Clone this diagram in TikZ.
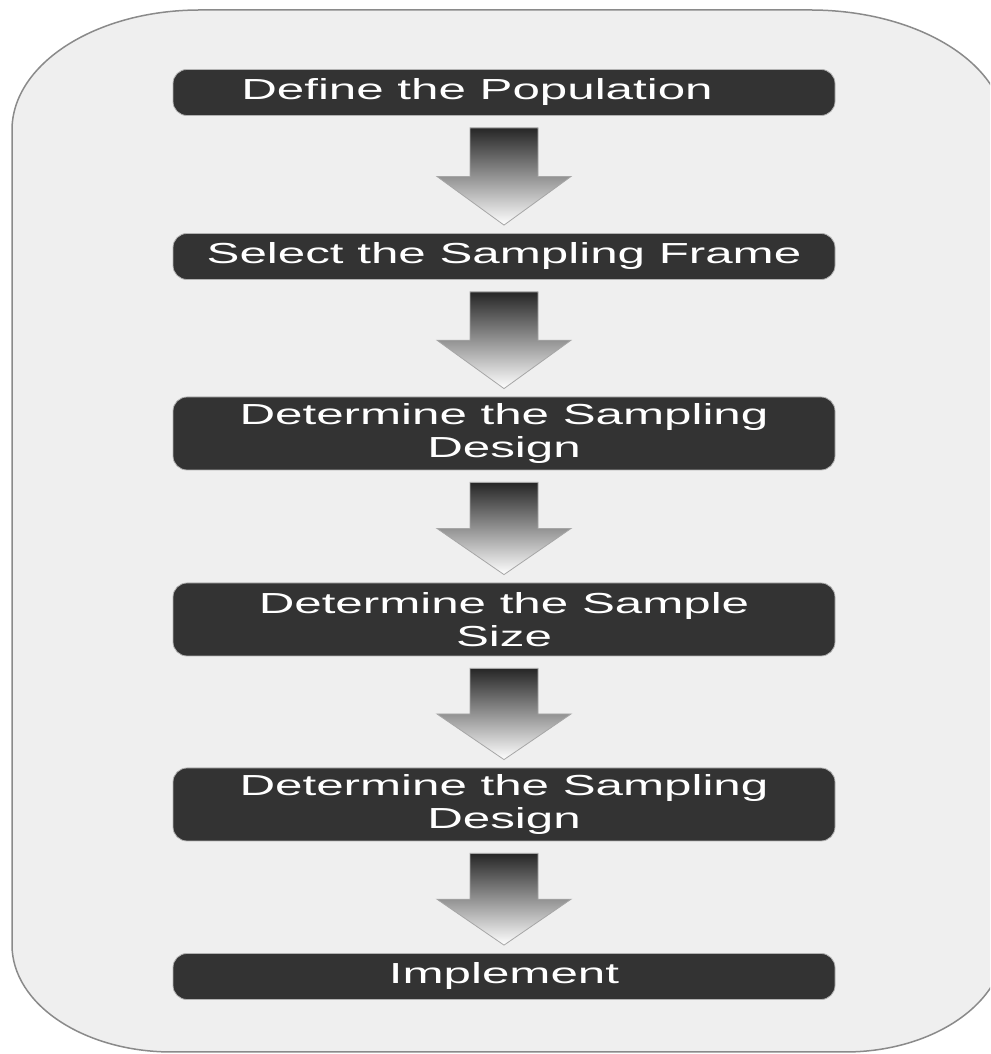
\documentclass[tikz,border=0pt]{standalone}
\usepackage{fontspec}
\newfontfamily\stepfont[FakeStretch=1.7]{Liberation Sans}
\usetikzlibrary{calc}
\definecolor{panelgray}{HTML}{EFEFEF}
\definecolor{edgegray}{HTML}{8A8A8A}
\definecolor{boxgray}{HTML}{333333}
\tikzset{
  stepbox/.style={draw=gray!60, line width=0.8pt, fill=boxgray, rounded corners=14pt,
    minimum width=662pt, minimum height=46pt, inner sep=0pt, align=center,
    text=white, font=\stepfont\fontsize{29}{33}\selectfont},
  tallbox/.style={stepbox, minimum height=73pt},
  arrowshape/.style={draw=gray!70, line width=0.8pt, top color=black!85, bottom color=white}
}
% arrow between two step boxes
\newcommand{\flowarrow}[2]{%
  \coordinate (t) at ($(#1.south)+(0,-12)$);
  \coordinate (p) at ($(#2.north)+(0,8)$);
  \coordinate (m) at ($(t)!0.5!(p)$);
  \shade[arrowshape] ($(t)+(-34,0)$) -- ($(t)+(34,0)$) -- ($(m)+(34,0)$) -- ($(m)+(67,0)$)
    -- (p) -- ($(m)+(-67,0)$) -- ($(m)+(-34,0)$) -- cycle;}

\begin{document}
\begin{tikzpicture}[x=1pt, y=1pt]
			%%%%% START %%%%%
			
			\path[use as bounding box] (0, 0) rectangle (990, 1054);
			\clip (0, 0) rectangle (990, 1054);
			
			\draw[line width=1.5pt, draw=edgegray, fill=panelgray] (200, 1044) -- (810, 1044)
			  arc[start angle=90, end angle=0, x radius=195, y radius=120] -- (1005, 112)
			  arc[start angle=0, end angle=-90, x radius=160, y radius=110] -- (172, 2)
			  arc[start angle=270, end angle=180, x radius=160, y radius=107] -- (12, 924)
			  arc[start angle=180, end angle=90, x radius=188, y radius=120] -- cycle;
			
			\node[stepbox] (population) at (504, 961.5) {\hspace*{-54pt}Define the Population};
			\node[stepbox] (frame) at (504, 797.5) {Select the Sampling Frame};
			\node[tallbox] (design) at (504, 620.5) {Determine the Sampling\\Design};
			\node[tallbox] (size) at (504, 434.5) {Determine the Sample\\Size};
			\node[tallbox] (design2) at (504, 249.5) {Determine the Sampling\\Design};
			\node[stepbox] (implement) at (504, 77.5) {Implement};
			
			\flowarrow{population}{frame}
			\flowarrow{frame}{design}
			\flowarrow{design}{size}
			\flowarrow{size}{design2}
			\flowarrow{design2}{implement}
			
			%%%%% END %%%%%
		\end{tikzpicture}
\end{document}
